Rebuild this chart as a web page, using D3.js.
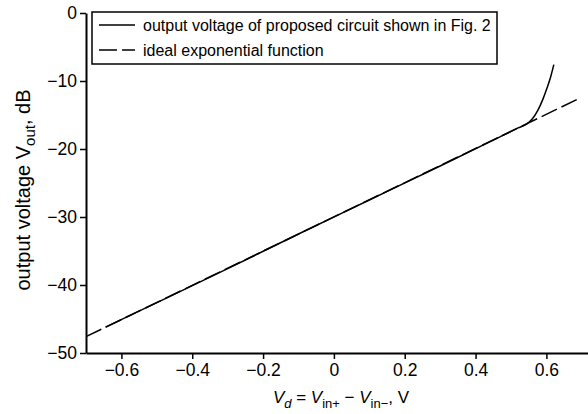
<!DOCTYPE html>
<html>
<head>
<meta charset="utf-8">
<script src="https://cdn.jsdelivr.net/npm/d3@7"></script>
<style>
  body { margin: 0; background: #fff; }
  svg { display: block; font-family: "Liberation Sans", Arial, sans-serif; }
</style>
</head>
<body>
<svg id="chart" width="588" height="414"></svg>
<script>
// values
const vdSolid   = [-0.645, -0.5, -0.3, -0.1, 0.1, 0.3, 0.45, 0.52, 0.545, 0.56, 0.575, 0.59, 0.602, 0.612, 0.621]
const voutSolid = [-46.2, -42.6, -37.6, -32.5, -27.5, -22.5, -18.7, -16.9, -16.3, -15.6, -14.4, -12.7, -11.0, -9.4, -7.6]
const vdIdeal   = [-0.70, 0.695]
const voutIdeal = [-47.6, -12.5]
const xTicks = [-0.6, -0.4, -0.2, 0, 0.2, 0.4, 0.6]
const yTicks = [0, -10, -20, -30, -40, -50]
const legendLabels = ['output voltage of proposed circuit shown in Fig. 2', 'ideal exponential function']

const svg = d3.select('#chart')
const margin = {top: 13, right: 0, bottom: 61, left: 86}
const W = 588, H = 414

const x = d3.scaleLinear().domain([-0.7, 0.7175]).range([margin.left, W - margin.right])
const y = d3.scaleLinear().domain([-50, 0]).range([H - margin.bottom, margin.top])

const fmtX = d => d === 0 ? '0' : d3.format('.1f')(d).replace('-', '\u2212')

// axes
const xAxis = svg.append('g')
  .attr('transform', `translate(0,${H - margin.bottom})`)
  .call(d3.axisBottom(x).tickValues(xTicks).tickSize(6).tickPadding(5).tickSizeOuter(0).tickFormat(fmtX))
const yAxis = svg.append('g')
  .attr('transform', `translate(${margin.left},0)`)
  .call(d3.axisLeft(y).tickValues(yTicks).tickSize(6).tickPadding(3).tickSizeOuter(0))

;[xAxis, yAxis].forEach(a => {
  a.select('.domain').attr('stroke', '#000').attr('stroke-width', 2)
  a.selectAll('.tick line').attr('stroke', '#000').attr('stroke-width', 1.5)
  a.selectAll('.tick text').attr('font-size', 17.5).attr('fill', '#000')
    .attr('font-family', '"Liberation Sans", Arial, sans-serif')
})

// lines
const line = d3.line().x(d => x(d[0])).y(d => y(d[1]))
svg.append('path')
  .datum(d3.zip(vdIdeal, voutIdeal))
  .attr('d', line)
  .attr('fill', 'none').attr('stroke', '#000').attr('stroke-width', 1.5)
  .attr('stroke-dasharray', '17,5')
svg.append('path')
  .datum(d3.zip(vdSolid, voutSolid))
  .attr('d', line.curve(d3.curveMonotoneX))
  .attr('fill', 'none').attr('stroke', '#000').attr('stroke-width', 1.5)

// legend
const lg = svg.append('g')
lg.append('rect')
  .attr('x', 92).attr('y', 12).attr('width', 405).attr('height', 52)
  .attr('fill', '#fff').attr('stroke', '#000').attr('stroke-width', 1.5)
legendLabels.forEach((t, i) => {
  const yy = 25 + i * 25
  lg.append('line')
    .attr('x1', 99).attr('x2', 135).attr('y1', yy).attr('y2', yy)
    .attr('stroke', '#000').attr('stroke-width', 1.5)
    .attr('stroke-dasharray', i === 1 ? '18,5' : null)
  lg.append('text')
    .attr('x', 143).attr('y', yy + 5.5)
    .attr('font-size', 16)
    .text(t)
})

// axis titles
const xt = svg.append('text')
  .attr('x', 341).attr('y', 403)
  .attr('text-anchor', 'middle')
  .attr('font-size', 17)
xt.append('tspan').attr('font-style', 'italic').text('V')
xt.append('tspan').attr('font-style', 'italic').attr('font-size', 13).attr('dy', 5).text('d')
xt.append('tspan').attr('dy', -5).text(' = ')
xt.append('tspan').attr('font-style', 'italic').text('V')
xt.append('tspan').attr('font-size', 13).attr('dy', 5).text('in+')
xt.append('tspan').attr('dy', -5).text(' \u2212 ')
xt.append('tspan').attr('font-style', 'italic').text('V')
xt.append('tspan').attr('font-size', 13).attr('dy', 5).text('in\u2212')
xt.append('tspan').attr('dy', -5).text(', V')

const yt = svg.append('text')
  .attr('transform', 'translate(30,190) rotate(-90)')
  .attr('text-anchor', 'middle')
  .attr('font-size', 20)
yt.append('tspan').text('output voltage V')
yt.append('tspan').attr('font-size', 15).attr('dy', 5).text('out')
yt.append('tspan').attr('dy', -5).text(', dB')
</script>
</body>
</html>
